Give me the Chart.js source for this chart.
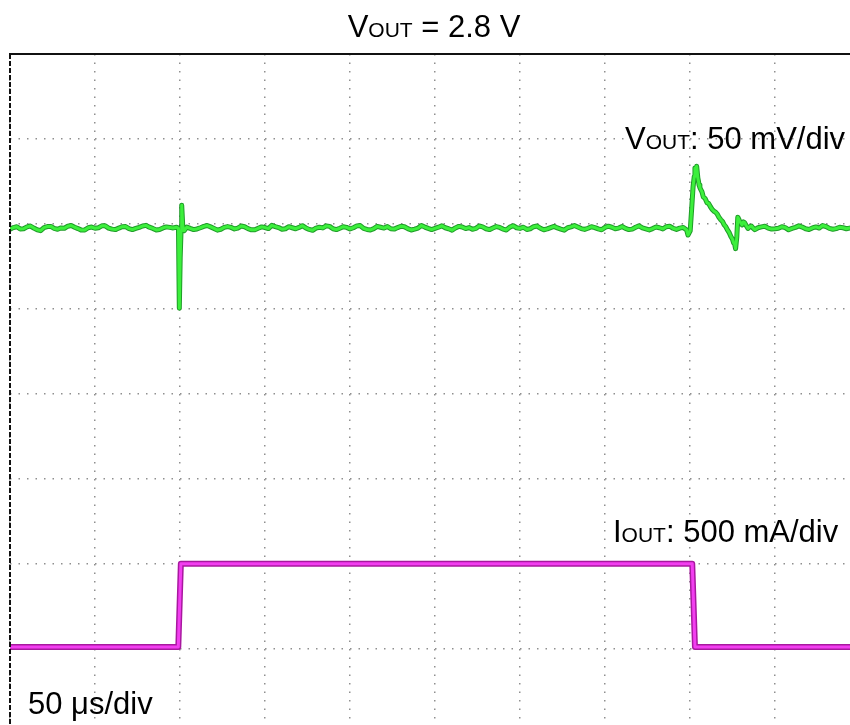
<!DOCTYPE html>
<html>
<head>
<meta charset="utf-8">
<title>Load transient, VOUT = 2.8 V</title>
<script src="https://cdn.jsdelivr.net/npm/chart.js@4"></script>
<style>
  html, body { margin: 0; padding: 0; background: #ffffff; overflow: hidden; }
  #wrap { width: 850px; height: 725px; position: relative; }
</style>
</head>
<body>
<div id="wrap"><canvas id="scope" width="850" height="725"></canvas></div>
<script>
// Scope settings
const US_PER_DIV = 50;    // time base
const MV_PER_DIV = 50;    // VOUT channel, AC coupled, mV deviation
const MA_PER_DIV = 500;   // IOUT channel, mA
const SAMPLE_US = 2;      // record spacing of the quiet stretches

// VOUT, quiet stretch before the load step (samples from 0 µs)
const vQuietA = [
  -3.0, -2.1, -1.6, -2.9, -2.8, -1.7, -1.2, -2.4, -3.4, -3.9,
  -2.1, -1.5, -1.4, -2.6, -3.1, -2.3, -2.5, -1.3, -0.9, -1.9,
  -2.7, -3.6, -3.5, -2.2, -1.8, -2.5, -2.2, -1.1, -1.1, -2.4,
  -3.0, -3.3, -2.4, -1.6, -1.5, -2.7, -3.3, -2.6, -2.0, -1.2,
  -0.8, -1.9, -2.6, -3.5, -3.2, -2.3, -1.7, -2.0, -2.3
];
const vQuietAStart = 0;

// VOUT around the load step-up
const vUpTime = [98, 99.1, 99.6, 100.1, 100.6, 101.0, 101.6, 102.4];
const vUpMv   = [-1.9, -2.5, -49.5, -20, -4, 11, -1, -4];

// VOUT, quiet stretch while loaded (samples from 104 µs)
const vQuietB = [
  -1.8, -2.6, -3.3, -2.9, -2.2, -1.4, -0.9, -1.7, -2.6, -3.6,
  -3.1, -2.0, -1.5, -2.0, -2.9, -2.4, -1.2, -1.6, -2.7, -3.4,
  -3.4, -2.5, -1.7, -2.1, -2.7, -0.8, -1.5, -2.1, -3.1, -2.8,
  -1.6, -2.2, -2.8, -2.0, -1.0, -2.3, -3.2, -3.7, -2.4, -1.9,
  -2.3, -1.1, -1.4, -2.8, -3.3, -2.5, -1.6, -2.0, -2.9, -2.2,
  -1.1, -0.9, -2.6, -3.2, -3.5, -2.7, -1.4, -1.9, -2.4, -1.5,
  -2.8, -3.0, -2.1, -1.3, -1.6, -2.7, -3.5, -3.0, -2.4, -0.9,
  -1.8, -2.6, -3.3, -2.6, -1.9, -1.1, -2.2, -2.8, -3.6, -2.3,
  -1.4, -1.8, -2.7, -2.1, -3.1, -2.6, -1.2, -1.7, -2.8, -3.3,
  -2.4, -1.5, -2.0, -3.0, -3.5, -1.8, -1.0, -2.2, -2.6, -1.9,
  -3.2, -2.8, -1.6, -1.2, -2.5, -3.4, -2.9, -2.1, -1.4, -2.3,
  -3.0, -3.6, -2.2, -1.7, -0.9, -1.8, -2.7, -3.2, -2.5, -1.6,
  -2.1, -2.9, -3.4, -2.0, -1.3, -1.9, -2.8, -2.4, -1.5, -2.6,
  -3.3, -3.0, -1.9, -1.1, -2.3, -2.9, -3.5, -2.7, -1.8, -2.2,
  -2.9, -1.6, -1.3, -2.5, -3.2, -2.4, -2.0
];
const vQuietBStart = 104;

// VOUT around the load release: overshoot, ramp down, recovery
const vDownTime = [
  398.0, 398.8, 400.1, 400.9, 401.8, 402.5, 402.9, 403.4, 403.9, 404.6,
  405.0, 405.3, 405.8, 406.2, 407.0, 407.8, 408.9, 410.0, 411.0, 412.1,
  413.1, 414.1, 415.0, 415.9, 417.0, 418.1, 419.1, 420.1, 421.0, 422.0,
  423.0, 424.1, 425.0, 425.6, 426.3, 426.8, 427.5, 428.1, 428.6, 429.1,
  429.9, 430.6, 431.4, 432.1, 433.1, 434.1, 435.1, 436.1, 437.1, 438.1
];
const vDownMv = [
  -3.5, -6.5, -4, 8, 22, 28, 33, 30, 34, 27,
  25, 23, 21.5, 20.5, 19, 16, 15, 12.5, 12, 10,
  8.5, 7.5, 7.0, 6, 4.0, 2.5, 1.5, -0.5, -1.5, -3.5,
  -5, -7.5, -9, -11, -12, -14.5, -8, 4, 3, 2,
  0.5, -0.5, 1.2, 0.8, -1.0, -2.6, -1.6, -1.2, -2.4, -3.3
];

// VOUT, quiet stretch after release (samples from 440 µs)
const vQuietC = [
  -2.2, -1.7, -1.3, -2.4, -3.0, -2.8, -2.5, -1.6, -2.1, -3.4,
  -2.6, -2.0, -1.1, -1.8, -2.8, -3.2, -2.3, -1.7, -2.4, -0.9,
  -1.5, -2.6, -3.1, -2.7, -1.9, -2.2, -2.8, -2.4
];
const vQuietCStart = 440;

// IOUT trace (time in µs, current in mA)
const iTime = [0, 99.0, 100.5, 401.3, 402.9, 494];
const iOut  = [12, 12, 502, 502, 12, 12];

// Visible window: 840 px wide by 671 px tall at 85 px per division
const X_MAX = 494.1;
const V_MAX = 100, V_MIN = -294.7;
const I_MAX = 3500, I_MIN = -447;

function sampled(start, values) {
  return values.map((v, k) => ({ x: start + k * SAMPLE_US, y: v }));
}
function paired(times, values) {
  return times.map((t, k) => ({ x: t, y: values[k] }));
}

const vPoints = [].concat(
  sampled(vQuietAStart, vQuietA),
  paired(vUpTime, vUpMv),
  sampled(vQuietBStart, vQuietB),
  paired(vDownTime, vDownMv),
  sampled(vQuietCStart, vQuietC)
);
const iPoints = paired(iTime, iOut);

const FONT = '"Liberation Sans", Arial, Helvetica, sans-serif';

function richWidth(ctx, parts) {
  let w = 0;
  for (const [txt, size] of parts) {
    ctx.font = size + 'px ' + FONT;
    w += ctx.measureText(txt).width;
  }
  return w;
}
function drawRich(ctx, x, y, parts) {
  let cx = x;
  for (const [txt, size] of parts) {
    ctx.font = size + 'px ' + FONT;
    ctx.fillText(txt, cx, y);
    cx += ctx.measureText(txt).width;
  }
}

// Screen frame and channel annotations
const scopeDecor = {
  id: 'scopeDecor',
  afterDraw(chart) {
    const ctx = chart.ctx;
    const a = chart.chartArea;
    ctx.save();
    // solid top edge
    ctx.strokeStyle = '#111111';
    ctx.lineWidth = 2;
    ctx.setLineDash([]);
    ctx.beginPath();
    ctx.moveTo(a.left - 1, a.top);
    ctx.lineTo(a.right, a.top);
    ctx.stroke();
    // dashed left edge
    ctx.setLineDash([5, 2]);
    ctx.beginPath();
    ctx.moveTo(a.left, a.top);
    ctx.lineTo(a.left, a.bottom);
    ctx.stroke();
    ctx.setLineDash([]);

    ctx.fillStyle = '#000000';
    ctx.textBaseline = 'alphabetic';
    ctx.textAlign = 'left';
    const title = [['V', 31], ['OUT', 21], [' = 2.8 V', 31]];
    const tw = richWidth(ctx, title);
    drawRich(ctx, 434 - tw / 2, 37, title);
    drawRich(ctx, 625, 149, [['V', 31], ['OUT', 21], [': 50 mV/div', 31]]);
    drawRich(ctx, 613, 542, [['I', 31], ['OUT', 21], [': 500 mA/div', 31]]);
    drawRich(ctx, 28, 714, [['50 μs/div', 31]]);
    ctx.restore();
  }
};

const gridStyle = { color: '#8f8f8f', lineWidth: 1.5, drawTicks: false };
const gridDash = { display: false, dash: [1.5, 7] };

new Chart(document.getElementById('scope'), {
  type: 'line',
  data: {
    datasets: [
      { data: vPoints, yAxisID: 'yV', borderColor: '#3cef3c', borderWidth: 3 },
      { data: iPoints, yAxisID: 'yI', borderColor: '#f23ef0', borderWidth: 3 },
      { data: vPoints, yAxisID: 'yV', borderColor: '#1f9c28', borderWidth: 5 },
      { data: iPoints, yAxisID: 'yI', borderColor: '#a8189f', borderWidth: 6 }
    ]
  },
  options: {
    responsive: false,
    animation: false,
    devicePixelRatio: 1,
    parsing: false,
    normalized: true,
    layout: { padding: { left: 10, top: 54, right: 0, bottom: 0 } },
    elements: {
      point: { radius: 0, hoverRadius: 0 },
      line: { tension: 0, borderJoinStyle: 'round', borderCapStyle: 'round' }
    },
    plugins: { legend: { display: false }, tooltip: { enabled: false }, title: { display: false } },
    scales: {
      x: {
        type: 'linear',
        min: 0,
        max: X_MAX,
        grid: gridStyle,
        border: gridDash,
        ticks: { display: false, stepSize: US_PER_DIV, includeBounds: false, padding: 0 }
      },
      yV: {
        type: 'linear',
        position: 'left',
        min: V_MIN,
        max: V_MAX,
        grid: gridStyle,
        border: gridDash,
        ticks: { display: false, stepSize: MV_PER_DIV, includeBounds: false, padding: 0 }
      },
      yI: {
        type: 'linear',
        position: 'right',
        display: false,
        min: I_MIN,
        max: I_MAX,
        ticks: { stepSize: MA_PER_DIV }
      }
    }
  },
  plugins: [scopeDecor]
});
</script>
</body>
</html>
